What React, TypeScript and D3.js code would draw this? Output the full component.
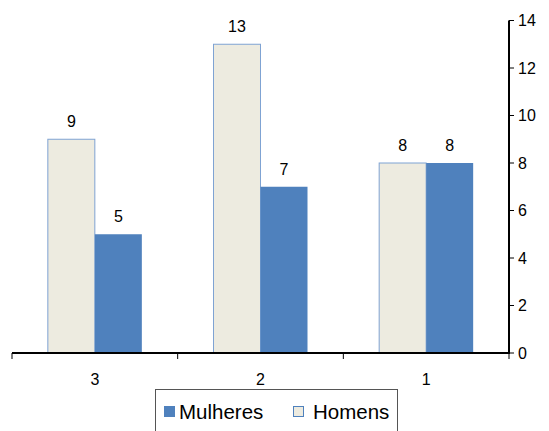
import React, { useEffect, useRef } from 'react';
import * as d3 from 'd3';

const categories = ['3', '2', '1'];
const series = ['Homens', 'Mulheres'];
const homens = [9, 13, 8];
const mulheres = [5, 7, 8];
const yTicks = [0, 2, 4, 6, 8, 10, 12, 14];

const App: React.FC = () => {
  const ref = useRef<SVGSVGElement>(null);

  useEffect(() => {
    if (!ref.current) return;
    const svg = d3.select(ref.current);
    svg.selectAll('*').remove();

    const font = 'Liberation Sans, Arial, Helvetica, sans-serif';
    const colors: Record<string, string> = { Homens: '#EDEBE0', Mulheres: '#4F81BD' };

    // scales
    const x0 = d3.scaleBand().domain(categories).range([12, 509]).padding(0);
    const x1 = d3.scaleBand().domain(series).range([-47, 47]).padding(0);
    const y = d3.scaleLinear().domain([0, 14]).range([353, 20.5]);

    const rows = categories.map((c, i) => ({ cat: c, values: [
      { key: 'Homens', value: homens[i] },
      { key: 'Mulheres', value: mulheres[i] },
    ] }));

    // bars
    const g = svg.selectAll('.grp')
      .data(rows)
      .enter().append('g')
      .attr('transform', d => `translate(${(x0(d.cat) as number) + x0.bandwidth() / 2},0)`);

    g.selectAll('rect')
      .data(d => d.values)
      .enter().append('rect')
      .attr('x', d => x1(d.key) as number)
      .attr('y', d => y(d.value))
      .attr('width', x1.bandwidth())
      .attr('height', d => y(0) - y(d.value))
      .attr('fill', d => colors[d.key])
      .attr('stroke', d => d.key === 'Homens' ? '#7FA3D3' : 'none')
      .attr('stroke-width', 1);

    g.selectAll('text')
      .data(d => d.values)
      .enter().append('text')
      .attr('x', d => (x1(d.key) as number) + x1.bandwidth() / 2)
      .attr('y', d => y(d.value) - 12)
      .attr('text-anchor', 'middle')
      .style('font-family', font)
      .style('font-size', '16px')
      .attr('fill', '#000')
      .text(d => d.value);

    // x axis
    svg.append('line')
      .attr('x1', 12).attr('x2', 509)
      .attr('y1', y(0)).attr('y2', y(0))
      .attr('stroke', '#000').attr('stroke-width', 2);

    const bounds = [...categories.map(c => x0(c) as number), 509];
    svg.selectAll('.xtick')
      .data(bounds)
      .enter().append('line')
      .attr('x1', d => d).attr('x2', d => d)
      .attr('y1', y(0)).attr('y2', y(0) + 6)
      .attr('stroke', '#000').attr('stroke-width', 1);

    svg.selectAll('.xlabel')
      .data(categories)
      .enter().append('text')
      .attr('x', d => (x0(d) as number) + x0.bandwidth() / 2)
      .attr('y', 385)
      .attr('text-anchor', 'middle')
      .style('font-family', font)
      .style('font-size', '16px')
      .attr('fill', '#000')
      .text(d => d);

    // y axis on the right
    svg.append('line')
      .attr('x1', 509).attr('x2', 509)
      .attr('y1', y(0) + 1).attr('y2', y(14))
      .attr('stroke', '#000').attr('stroke-width', 2);

    svg.selectAll('.ytick')
      .data(yTicks)
      .enter().append('line')
      .attr('x1', 509).attr('x2', 514)
      .attr('y1', d => y(d)).attr('y2', d => y(d))
      .attr('stroke', '#000').attr('stroke-width', 1);

    svg.selectAll('.ylabel')
      .data(yTicks)
      .enter().append('text')
      .attr('x', 518)
      .attr('y', d => y(d))
      .attr('dy', '0.36em')
      .style('font-family', font)
      .style('font-size', '16px')
      .attr('fill', '#000')
      .text(d => d);

    // legend
    svg.append('rect')
      .attr('x', 155.5).attr('y', 389.5)
      .attr('width', 242).attr('height', 60)
      .attr('fill', '#fff')
      .attr('stroke', '#555').attr('stroke-width', 1);

    const legend = [
      { key: 'Mulheres', sx: 164, tx: 179 },
      { key: 'Homens', sx: 293, tx: 313 },
    ];
    const lg = svg.selectAll('.leg')
      .data(legend)
      .enter().append('g');
    lg.append('rect')
      .attr('x', d => d.sx + (d.key === 'Homens' ? 0.5 : 0))
      .attr('y', d => d.key === 'Homens' ? 406.5 : 406)
      .attr('width', d => d.key === 'Homens' ? 10 : 11)
      .attr('height', d => d.key === 'Homens' ? 10 : 11)
      .attr('fill', d => colors[d.key])
      .attr('stroke', d => d.key === 'Homens' ? '#4F81BD' : 'none');
    lg.append('text')
      .attr('x', d => d.tx)
      .attr('y', 419)
      .style('font-family', font)
      .style('font-size', '20.5px')
      .attr('fill', '#000')
      .text(d => d.key);
  }, []);

  return (
    <div style={{ position: 'fixed', left: 0, top: 0, background: '#fff' }}>
      <svg ref={ref} width={549} height={431} />
    </div>
  );
};

export default App;
